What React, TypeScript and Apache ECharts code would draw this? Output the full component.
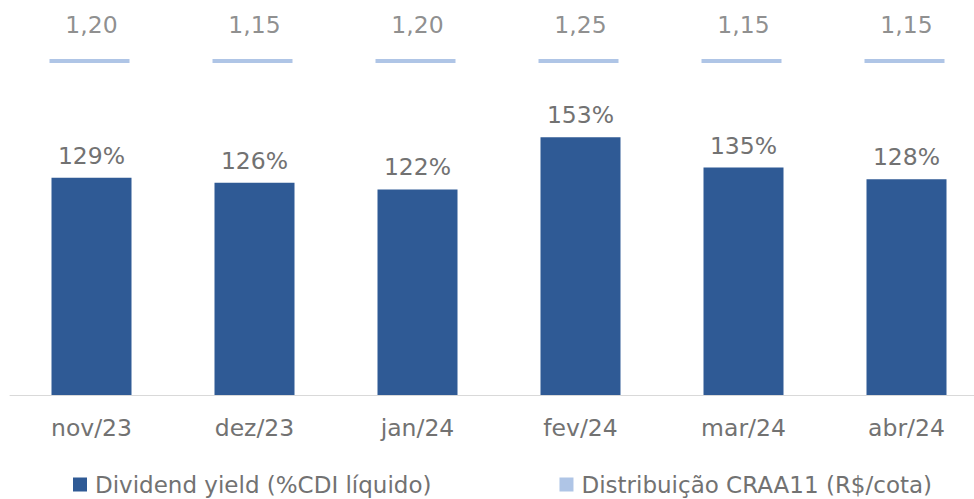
import React, { useEffect, useRef } from "react";
import * as echarts from "echarts";

const categories = ["nov/23", "dez/23", "jan/24", "fev/24", "mar/24", "abr/24"];
const dividendYield = [129, 126, 122, 153, 135, 128];
const distribution = [1.2, 1.15, 1.2, 1.25, 1.15, 1.15];
const distRow = ["R$/cota"];

const FONT = "DejaVu Sans";
const GREY = "#727272";
const DARK = "#2F5A95";
const LIGHT = "#9BB7E0";

export default function App() {
  const ref = useRef<HTMLDivElement>(null);
  useEffect(() => {
    if (!ref.current) return;
    const chart = echarts.init(ref.current, undefined, { renderer: "svg" });
    chart.setOption({
      animation: false,
      textStyle: { fontFamily: FONT },
      grid: [
        { left: 10, width: 978, top: 58, height: 337 },
        { left: 10, width: 978, top: 51, height: 20 },
      ],
      xAxis: [
        {
          type: "category",
          gridIndex: 0,
          data: categories,
          axisTick: { show: false },
          axisLine: { lineStyle: { color: "#D9D9D9", width: 1 } },
          axisLabel: { color: GREY, fontSize: 23.5, fontFamily: FONT, margin: 21 },
        },
        {
          type: "category",
          gridIndex: 1,
          data: categories,
          show: false,
        },
      ],
      yAxis: [
        { type: "value", gridIndex: 0, min: 0, max: 200, show: false },
        { type: "category", gridIndex: 1, data: distRow, show: false },
      ],
      legend: {
        left: 68,
        top: 468,
        itemWidth: 14,
        itemHeight: 14,
        itemGap: 128,
        icon: "rect",
        textStyle: { color: GREY, fontSize: 23, fontFamily: FONT, padding: [0, 0, 0, 3] },
        data: ["Dividend yield (%CDI líquido)", "Distribuição CRAA11 (R$/cota)"],
      },
      series: [
        {
          name: "Dividend yield (%CDI líquido)",
          type: "bar",
          xAxisIndex: 0,
          yAxisIndex: 0,
          data: dividendYield,
          barWidth: 80,
          itemStyle: { color: DARK },
          label: {
            show: true,
            position: "top",
            distance: 10,
            color: GREY,
            fontSize: 23.5,
            fontFamily: FONT,
            formatter: (p: any) => `${p.value}%`,
          },
        },
        {
          name: "Distribuição CRAA11 (R$/cota)",
          type: "scatter",
          xAxisIndex: 1,
          yAxisIndex: 1,
          symbol: "rect",
          symbolSize: [80, 4],
          symbolOffset: [-2, 0],
          itemStyle: { color: LIGHT },
          data: categories.map((c, i) => [c, distRow[0], distribution[i]]),
          label: {
            show: true,
            position: "top",
            distance: 22,
            offset: [2, 0],
            color: GREY,
            fontSize: 23.5,
            fontFamily: FONT,
            formatter: (p: any) => Number(p.value[2]).toFixed(2).replace(".", ","),
          },
        },
      ],
    });
    return () => chart.dispose();
  }, []);
  return (
    <div
      style={{
        position: "absolute",
        left: 0,
        top: 0,
        width: 974,
        height: 499,
        overflow: "hidden",
      }}
    >
      <div ref={ref} style={{ width: 988, height: 499 }} />
    </div>
  );
}
